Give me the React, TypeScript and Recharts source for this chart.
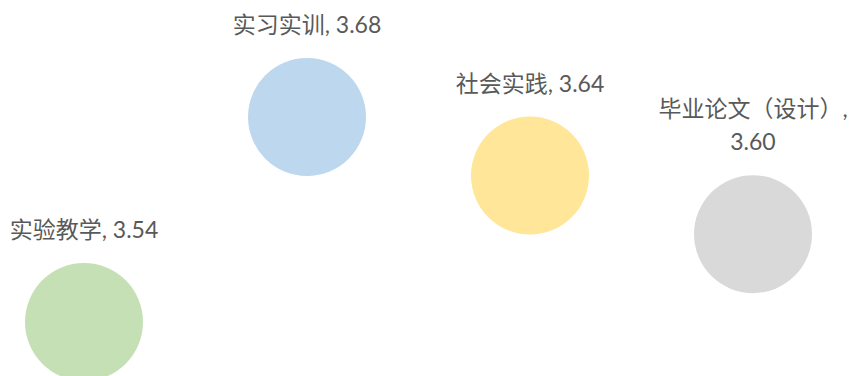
import { ScatterChart, Scatter, XAxis, YAxis } from 'recharts';

const categories = ['实验教学', '实习实训', '社会实践', '毕业论文（设计）'];
const scores = [3.54, 3.68, 3.64, 3.6];
const COLORS = ['#C5E0B4', '#BDD7EE', '#FFE699', '#D9D9D9'];

const FONT = "Lato, 'Noto Sans CJK SC', sans-serif";

const Bubble = (props: any) => {
    const { cx, cy, fill, payload } = props;
    const text = `${payload.name}, ${payload.score.toFixed(2)}`;
    // long names wrap onto two lines like the original labels
    const lines = payload.name.length > 4 ? [`${payload.name},`, payload.score.toFixed(2)] : [text];
    return (
        <g>
            <circle cx={cx} cy={cy} r={59} fill={fill} />
            <text textAnchor="middle" fontSize={23} fill="#595959" fontFamily={FONT}>
                {lines.map((line, i) => (
                    <tspan key={i} x={cx} y={cy - 84 - (lines.length - 1 - i) * 33}>
                        {line}
                    </tspan>
                ))}
            </text>
        </g>
    );
};

export default function App() {
    return (
        <div style={{ position: 'absolute', left: 0, top: 0, background: '#fff' }}>
            <ScatterChart width={853} height={376} margin={{ top: 117, right: 100, bottom: 54, left: 84 }}>
                <XAxis type="number" dataKey="x" domain={[1, 4]} hide />
                <YAxis type="number" dataKey="y" domain={[3.54, 3.68]} hide />
                {categories.map((name, i) => (
                    <Scatter
                        key={name}
                        name={name}
                        data={[{ x: i + 1, y: scores[i], name, score: scores[i] }]}
                        fill={COLORS[i]}
                        shape={<Bubble />}
                        isAnimationActive={false}
                    />
                ))}
            </ScatterChart>
        </div>
    );
}
